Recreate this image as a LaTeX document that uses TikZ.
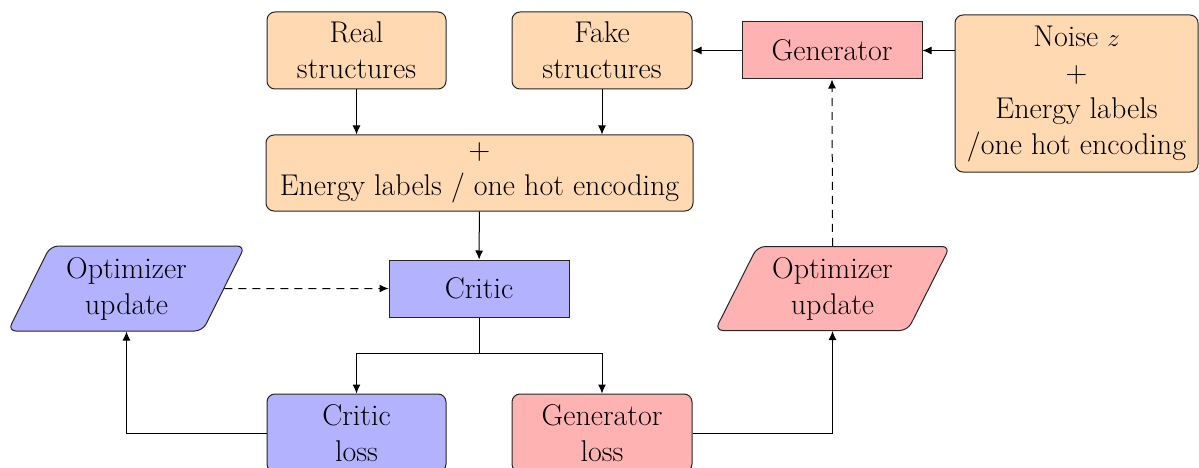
\documentclass[tikz,border=0pt]{standalone}
\usetikzlibrary{shapes.geometric,arrows.meta}
\begin{document}
\begin{tikzpicture}[x=1pt,y=-1pt,
  every node/.style={font=\fontsize{30}{36}\selectfont, align=center, inner sep=0pt},
  base/.style={draw=black!85, line width=1pt},
  rbox/.style={base, rounded corners=8pt},
  sbox/.style={base},
  io/.style={base, trapezium, trapezium left angle=56, trapezium right angle=124, trapezium stretches body, rounded corners=8pt},
  conn/.style={line width=1pt, -{Latex[length=9pt,width=8pt]}},
  dconn/.style={conn, dash pattern=on 8pt off 6pt}]
\useasboundingbox (0,0) rectangle (1199,468);
\node[rbox, fill=orange!30, minimum width=179pt, minimum height=77pt] (real) at (356.5,50.5) {Real\\structures};
\node[rbox, fill=orange!30, minimum width=180pt, minimum height=77pt] (fake) at (602,50.5) {Fake\\structures};
\node[sbox, fill=red!30, minimum width=180pt, minimum height=57pt] (gen) at (832,50.5) {Generator};
\node[rbox, fill=orange!30, minimum width=243pt, minimum height=157pt] (noise) at (1076.5,93.5) {Noise $z$\\+\\Energy labels\\/one hot encoding};
\node[rbox, fill=orange!30, minimum width=427pt, minimum height=76pt] (enc) at (479.5,173) {+\\Energy labels / one hot encoding};
\node[sbox, fill=blue!30, minimum width=180pt, minimum height=57pt] (critic) at (479,288.5) {Critic};
\node[io, fill=blue!30, minimum width=237pt, minimum height=85pt] (optL) at (126.5,288.5) {Optimizer\\update};
\node[io, fill=red!30, minimum width=235pt, minimum height=84pt] (optR) at (832.5,288.5) {Optimizer\\update};
\node[rbox, fill=blue!30, minimum width=179pt, minimum height=78pt] (closs) at (356.5,433) {Critic\\loss};
\node[rbox, fill=red!30, minimum width=180pt, minimum height=78pt] (gloss) at (602,433) {Generator\\loss};

\draw[conn] (real) -- (real |- enc.north);
\draw[conn] (fake) -- (fake |- enc.north);
\draw[conn] (enc) -- (critic);
\draw[line width=1pt] (critic.south) -- ++(0,36) coordinate (split);
\draw[conn] (split) -| (closs.north);
\draw[conn] (split) -| (gloss.north);
\draw[conn] (closs.west) -| (optL.south);
\draw[conn] (gloss.east) -| (optR.south);
\draw[dconn] (optL.east) -- (critic.west);
\draw[dconn] (optR.north) -- (gen.south);
\draw[conn] (gen.west) -- (fake.east |- gen.west);
\draw[conn] (gen.east -| noise.west) -- (gen.east);
\end{tikzpicture}
\end{document}
